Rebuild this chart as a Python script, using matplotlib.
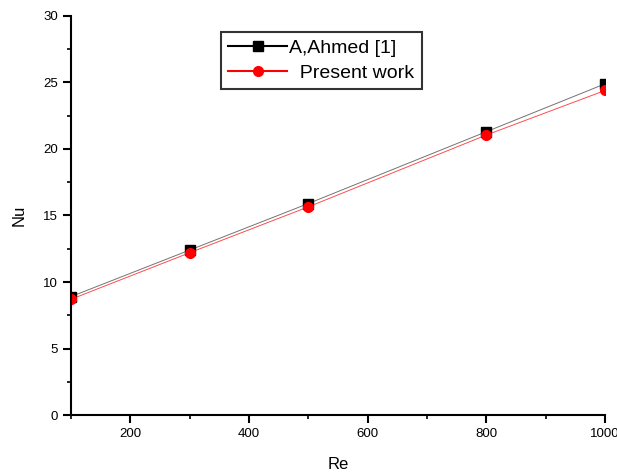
import matplotlib
matplotlib.use("Agg")
import matplotlib.pyplot as plt
from matplotlib.ticker import MultipleLocator

plt.rcParams['font.family'] = ['Liberation Sans', 'DejaVu Sans']

re_vals = [100, 300, 500, 800, 1000]
nu_ahmed = [8.9, 12.4, 15.9, 21.3, 24.9]
nu_present = [8.7, 12.2, 15.65, 21.05, 24.4]

fig = plt.figure(figsize=(6.17, 4.73), dpi=100)
ax = fig.add_axes([0.115, 0.1226, 0.8656, 0.8436])

ax.plot(re_vals, nu_ahmed, color=(0, 0, 0, 0.55), lw=0.7,
        marker='s', ms=7, mfc='black', mec='black', label='A,Ahmed [1]')
ax.plot(re_vals, nu_present, color=(1, 0, 0, 0.7), lw=0.7,
        marker='o', ms=7, mfc='red', mec='red', label='  Present work')

ax.set_xlim(100, 1000)
ax.set_ylim(0, 30)
ax.xaxis.set_major_locator(MultipleLocator(200))
ax.xaxis.set_minor_locator(MultipleLocator(100))
ax.yaxis.set_major_locator(MultipleLocator(5))
ax.yaxis.set_minor_locator(MultipleLocator(2.5))
ax.tick_params(which='major', length=6, width=1.5, labelsize=9.5)
ax.tick_params(which='minor', length=3, width=1.2)

for s in ['top', 'right']:
    ax.spines[s].set_visible(False)
for s in ['left', 'bottom']:
    ax.spines[s].set_linewidth(1.5)

ax.set_xlabel('Re', fontsize=12, labelpad=12)
ax.set_ylabel('Nu', fontsize=12, labelpad=12)

leg = ax.legend(loc='upper left', bbox_to_anchor=(0.262, 0.985), fontsize=14,
                frameon=True, fancybox=False, edgecolor='black',
                handlelength=3.0, handletextpad=0.1, borderpad=0.4,
                labelspacing=0.35)
leg.get_frame().set_linewidth(1.5)
for h in leg.legend_handles:
    h.set_color(h.get_markerfacecolor())
    h.set_linewidth(1.5)
    h.set_markersize(7)

fig.savefig('out.png', dpi=100)
